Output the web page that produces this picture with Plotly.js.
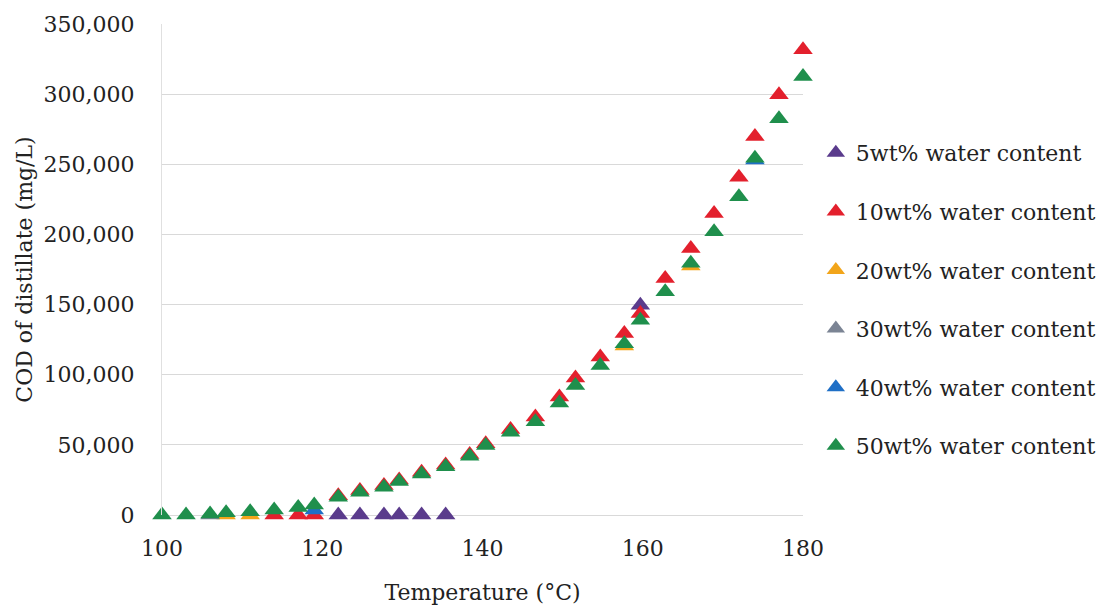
<!DOCTYPE html>
<html>
<head>
<meta charset="utf-8">
<script src="https://cdn.plot.ly/plotly-3.0.1.min.js"></script>
<style>html,body{margin:0;padding:0;background:#fff;}#chart{width:1113px;height:607px;}</style>
</head>
<body>
<div id="chart"></div>
<script>
// ---- data ----
const seriesNames = ["5wt% water content","10wt% water content","20wt% water content","30wt% water content","40wt% water content","50wt% water content"];

const temp5  = [122, 124.7, 127.7, 129.6, 132.4, 135.4, 159.7];
const cod5   = [0, 0, 0, 0, 0, 0, 149500];

const temp10 = [114, 117, 119, 122, 124.7, 127.7, 129.6, 132.4, 135.4, 138.4, 140.4, 143.5, 146.6, 149.6, 151.6, 154.7, 157.7, 159.7, 162.8, 166, 168.9, 172, 174, 177, 180];
const cod10  = [0, 0, 0, 13800, 17400, 21000, 25000, 30500, 35600, 43100, 50800, 61000, 69800, 84100, 97600, 112600, 129300, 143600, 168600, 190000, 215000, 240700, 269800, 299500, 331600];

const temp20 = [108, 111, 157.7, 166];
const cod20  = [0, 0, 120500, 177500];

const temp30 = [106];
const cod30  = [0];

const temp40 = [119, 174];
const cod40  = [3500, 253000];

const temp50 = [100, 103, 106, 108, 111, 114, 117, 119, 122, 124.7, 127.7, 129.6, 132.4, 135.4, 138.4, 140.4, 143.5, 146.6, 149.6, 151.6, 154.7, 157.7, 159.7, 162.8, 166, 168.9, 172, 174, 177, 180];
const cod50  = [0, 0, 700, 1600, 2400, 3600, 5400, 7100, 12600, 16200, 19800, 23800, 29300, 34400, 41900, 49500, 59000, 66500, 79800, 92400, 106600, 122100, 138800, 159100, 179500, 201900, 226900, 254300, 282400, 312600];

const xTicks = [100, 120, 140, 160, 180];
const yTicks = [0, 50000, 100000, 150000, 200000, 250000, 300000, 350000];
const yTickText = ["0", "50,000", "100,000", "150,000", "200,000", "250,000", "300,000", "350,000"];

const colors = ["#5a3b8c", "#e3202d", "#f2a51a", "#7b8494", "#1f6fc6", "#1f8f4c"];

const xs = [temp5, temp10, temp20, temp30, temp40, temp50];
const ys = [cod5, cod10, cod20, cod30, cod40, cod50];

const FONT = "DejaVu Serif, Liberation Serif, serif";
const TXT = "#222222";

const traces = seriesNames.map((name, i) => ({
  type: "scatter",
  mode: "markers",
  name: name,
  legendgroup: "g" + i,
  x: xs[i],
  y: ys[i],
  cliponaxis: false,
  marker: { symbol: "triangle-up", size: 17, color: colors[i], line: { width: 0 } },
  hoverinfo: "x+y+name"
}));

const layout = {
  width: 1113,
  height: 607,
  paper_bgcolor: "#ffffff",
  plot_bgcolor: "#ffffff",
  margin: { l: 162, r: 308, t: 24, b: 92 },
  font: { family: FONT, size: 22, color: TXT },
  showlegend: true,
  legend: {
    x: 1.02, xanchor: "left",
    y: 0.78, yanchor: "top",
    font: { family: FONT, size: 22, color: TXT },
    tracegroupgap: 27,
    itemwidth: 30,
    bgcolor: "rgba(0,0,0,0)"
  },
  xaxis: {
    range: [100, 180],
    tickvals: xTicks,
    ticktext: xTicks.map(String),
    showgrid: false,
    zeroline: false,
    showline: false,
    ticks: "",
    ticklabelstandoff: 18,
    tickfont: { family: FONT, size: 22, color: TXT },
    title: { text: "Temperature (°C)", font: { family: FONT, size: 22, color: TXT }, standoff: 24 }
  },
  yaxis: {
    range: [0, 350000],
    tickvals: yTicks,
    ticktext: yTickText,
    showgrid: true,
    gridcolor: "#d9d9d9",
    gridwidth: 1,
    zeroline: true,
    zerolinecolor: "#d9d9d9",
    zerolinewidth: 1,
    showline: true,
    linecolor: "#e0e0e0",
    linewidth: 1,
    ticks: "",
    ticklabelstandoff: 22,
    tickfont: { family: FONT, size: 22, color: TXT },
    title: { text: "COD of distillate (mg/L)", font: { family: FONT, size: 22, color: TXT }, standoff: 4 }
  }
};

Plotly.newPlot("chart", traces, layout, { displayModeBar: false, staticPlot: true });
</script>
</body>
</html>
